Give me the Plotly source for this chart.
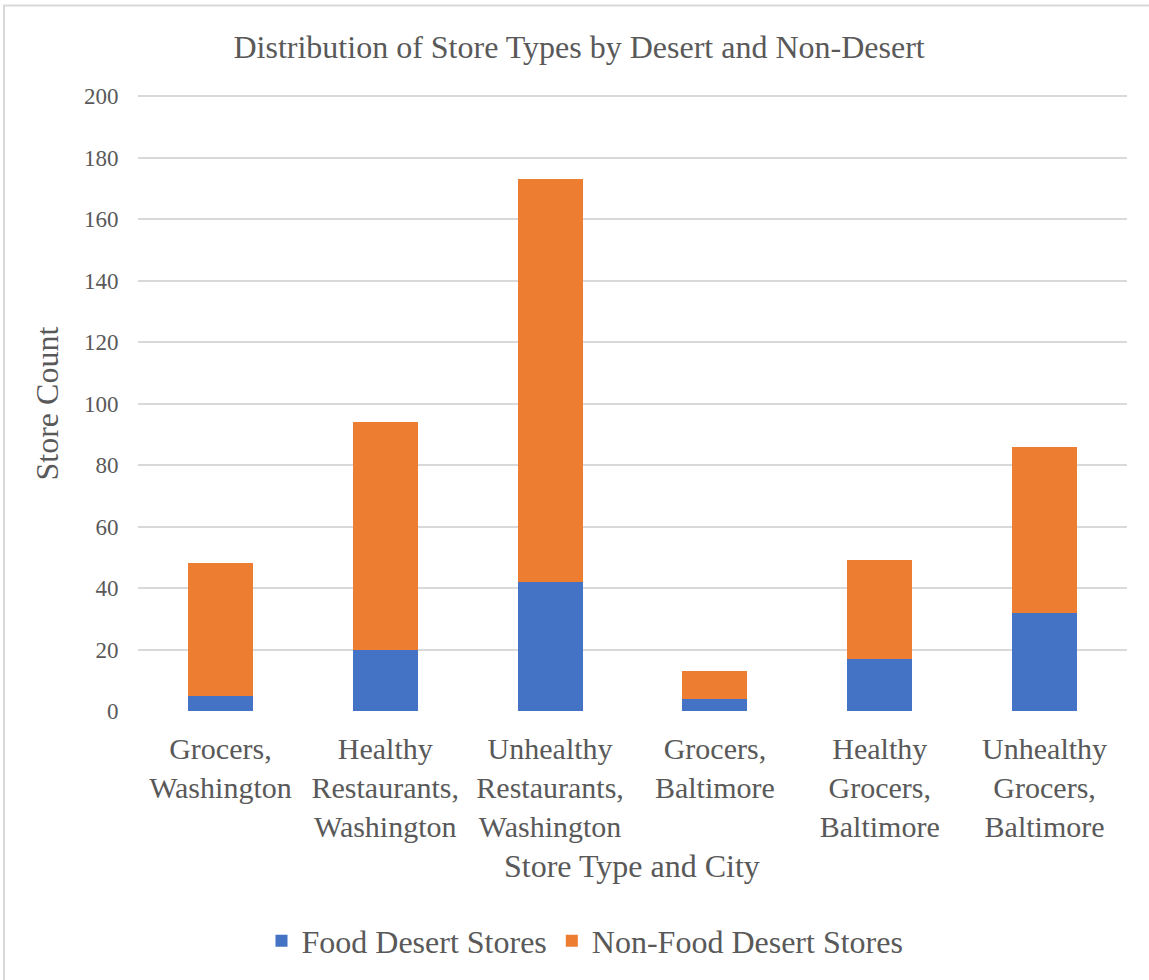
import plotly.graph_objects as go

categories = [
    "Grocers,<br>Washington",
    "Healthy<br>Restaurants,<br>Washington",
    "Unhealthy<br>Restaurants,<br>Washington",
    "Grocers,<br>Baltimore",
    "Healthy<br>Grocers,<br>Baltimore",
    "Unhealthy<br>Grocers,<br>Baltimore",
]
food_desert = [5, 20, 42, 4, 17, 32]
non_food_desert = [43, 74, 131, 9, 32, 54]
y_ticks = [0, 20, 40, 60, 80, 100, 120, 140, 160, 180, 200]

FONT = "Liberation Serif, Times New Roman, serif"
TXT = "#595959"

fig = go.Figure()
fig.add_trace(go.Bar(x=categories, y=food_desert, name="Food Desert Stores",
                     marker=dict(color="#4472C4", line=dict(width=0))))
fig.add_trace(go.Bar(x=categories, y=non_food_desert, name="Non-Food Desert Stores",
                     marker=dict(color="#ED7D31", line=dict(width=0))))

L, R, T, B = 138, 22, 95, 266
W, H = 1149, 980
pw, ph = W - L - R, H - T - B

fig.update_layout(
    width=W, height=H,
    barmode="stack",
    bargap=0.605,
    plot_bgcolor="white", paper_bgcolor="white",
    margin=dict(l=L, r=R, t=T, b=B),
    font=dict(family=FONT, color=TXT, size=24),
    title=dict(text="Distribution of Store Types by Desert and Non-Desert",
               x=0.504, xref="container", xanchor="center",
               y=1 - 47 / H, yref="container", yanchor="middle",
               font=dict(size=32, color=TXT, family=FONT)),
    legend=dict(orientation="h", x=(585 - L) / pw, xanchor="center",
                y=(H - B - 945) / ph, yanchor="middle",
                font=dict(size=32, color=TXT, family=FONT),
                itemwidth=30, traceorder="normal"),
    xaxis=dict(showgrid=False, showline=False, zeroline=False,
               tickfont=dict(size=30, color=TXT, family=FONT),
               ticks="outside", ticklen=11, tickcolor="rgba(0,0,0,0)"),
    yaxis=dict(range=[0, 200.4], tickvals=y_ticks, showgrid=True,
               gridcolor="#d9d9d9", gridwidth=1.5, zeroline=False,
               showline=False,
               tickfont=dict(size=23, color=TXT, family=FONT),
               ticks="outside", ticklen=14, tickcolor="rgba(0,0,0,0)"),
    annotations=[
        dict(text="Store Type and City", xref="paper", yref="paper",
             x=(632 - L) / pw, y=(H - B - 870) / ph, showarrow=False,
             xanchor="center", yanchor="middle",
             font=dict(size=32, color=TXT, family=FONT)),
        dict(text="Store Count", xref="paper", yref="paper",
             x=(47 - L) / pw, y=(H - B - 405) / ph, showarrow=False,
             xanchor="center", yanchor="middle", textangle=-90,
             font=dict(size=32, color=TXT, family=FONT)),
    ],
    shapes=[
        dict(type="rect", xref="paper", yref="paper",
             x0=(4 - L) / pw, x1=(1170 - L) / pw,
             y0=(H - B - 1000) / ph, y1=(H - B - 5) / ph,
             line=dict(color="#d9d9d9", width=2), fillcolor="rgba(0,0,0,0)",
             layer="below"),
    ],
)

fig.write_html("out.html")
